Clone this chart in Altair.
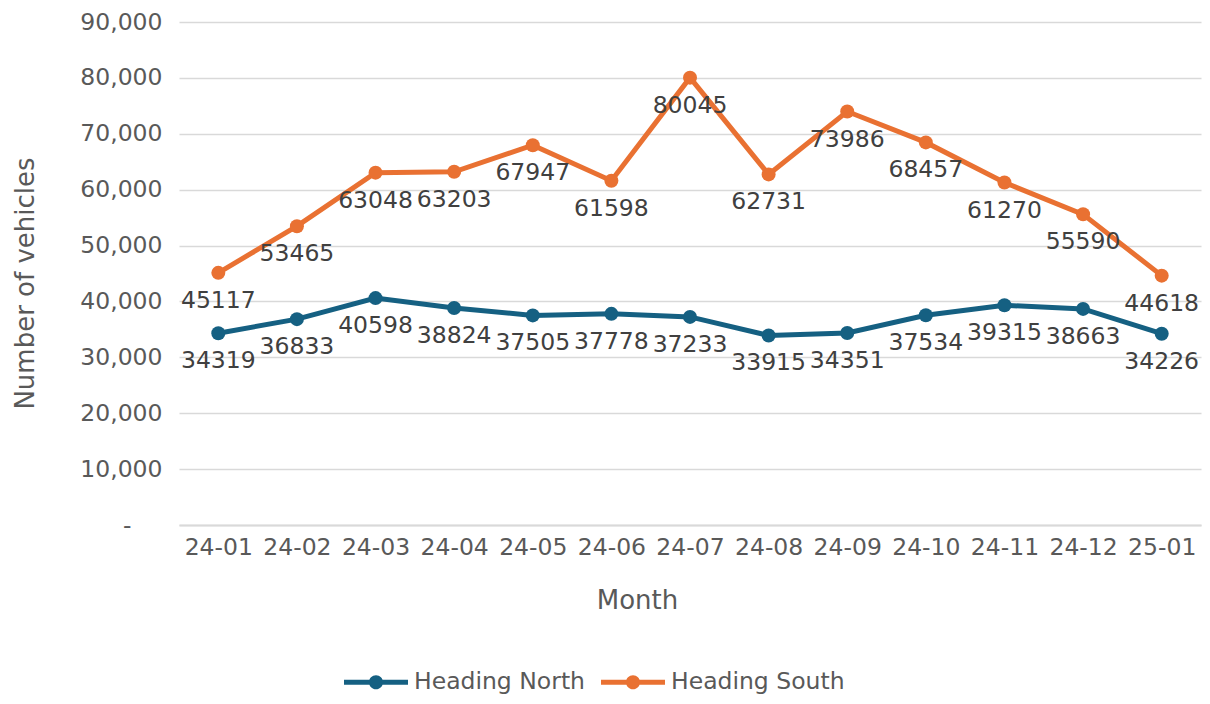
import altair as alt
import pandas as pd

months = ["24-01", "24-02", "24-03", "24-04", "24-05", "24-06", "24-07",
          "24-08", "24-09", "24-10", "24-11", "24-12", "25-01"]
north = [34319, 36833, 40598, 38824, 37505, 37778, 37233, 33915, 34351, 37534, 39315, 38663, 34226]
south = [45117, 53465, 63048, 63203, 67947, 61598, 80045, 62731, 73986, 68457, 61270, 55590, 44618]
series = ["Heading North", "Heading South"]
colors = ["#156082", "#E97132"]

rows = []
for m, v in zip(months, north):
    rows.append({"Month": m, "Series": series[0], "Value": v})
for m, v in zip(months, south):
    rows.append({"Month": m, "Series": series[1], "Value": v})
df = pd.DataFrame(rows)

FONT = "DejaVu Sans"
FS = 23.5

x = alt.X("Month:N", sort=months,
          scale=alt.Scale(type="point", padding=0.5),
          axis=alt.Axis(title="Month", labelAngle=0, labelFontSize=FS, labelColor="#595959",
                        labelPadding=10, ticks=False, domainColor="#d9d9d9", domainWidth=2,
                        titleFontSize=26, titleColor="#595959", titleFontWeight="normal",
                        titleX=458, titleY=75, titleAlign="center", titleBaseline="middle",
                        grid=False))
y = alt.Y("Value:Q",
          scale=alt.Scale(domain=[0, 90000], nice=False),
          axis=alt.Axis(title="Number of vehicles", values=list(range(0, 90001, 10000)),
                        labelExpr="datum.value == 0 ? '-' : format(datum.value, ',')",
                        labelFontSize=FS, labelColor="#595959",
                        labelPadding={"condition": {"test": "datum.value == 0", "value": 48}, "value": 17},
                        ticks=False, domain=False, gridColor="#d9d9d9", gridWidth=1.5,
                        titleFontSize=26, titleColor="#595959", titleFontWeight="normal",
                        titleAngle=-90, titleX=-154, titleY=261, titleAlign="center",
                        titleBaseline="middle"))

legend_path = ("M-1,-0.08 L1,-0.08 L1,0.08 L-1,0.08 Z "
               "M-0.22,0 A0.22,0.22 0 1,1 0.22,0 A0.22,0.22 0 1,1 -0.22,0 Z")

color = alt.Color("Series:N", scale=alt.Scale(domain=series, range=colors),
                  legend=alt.Legend(title=None, orient="none", direction="horizontal",
                                    legendX=165, legendY=628,
                                    symbolType=legend_path, symbolSize=4096,
                                    symbolStrokeWidth=0, symbolOpacity=1,
                                    labelFontSize=FS, labelColor="#595959", labelLimit=400,
                                    labelOffset=6, columnPadding=16, padding=0))

base = alt.Chart(df)
lines = base.mark_line(strokeWidth=5).encode(x=x, y=y, color=color)
points = base.mark_point(filled=True, size=196, opacity=1, shape="circle").encode(
    x=x, y=y, color=alt.Color("Series:N", scale=alt.Scale(domain=series, range=colors), legend=None))
labels = base.mark_text(dy=28, baseline="middle", align="center", fontSize=FS,
                        color="#404040", font=FONT).encode(x=x, y=y, text=alt.Text("Value:Q", format="d"))

chart = alt.layer(lines, points, labels).properties(
    width=1022, height=503,
    autosize=alt.AutoSizeParams(type="none"),
    padding={"left": 171, "top": 14, "right": 1, "bottom": 170},
).configure(font=FONT).configure_view(stroke=None)

chart.save("out.html", embed_options={"renderer": "svg", "actions": False})
